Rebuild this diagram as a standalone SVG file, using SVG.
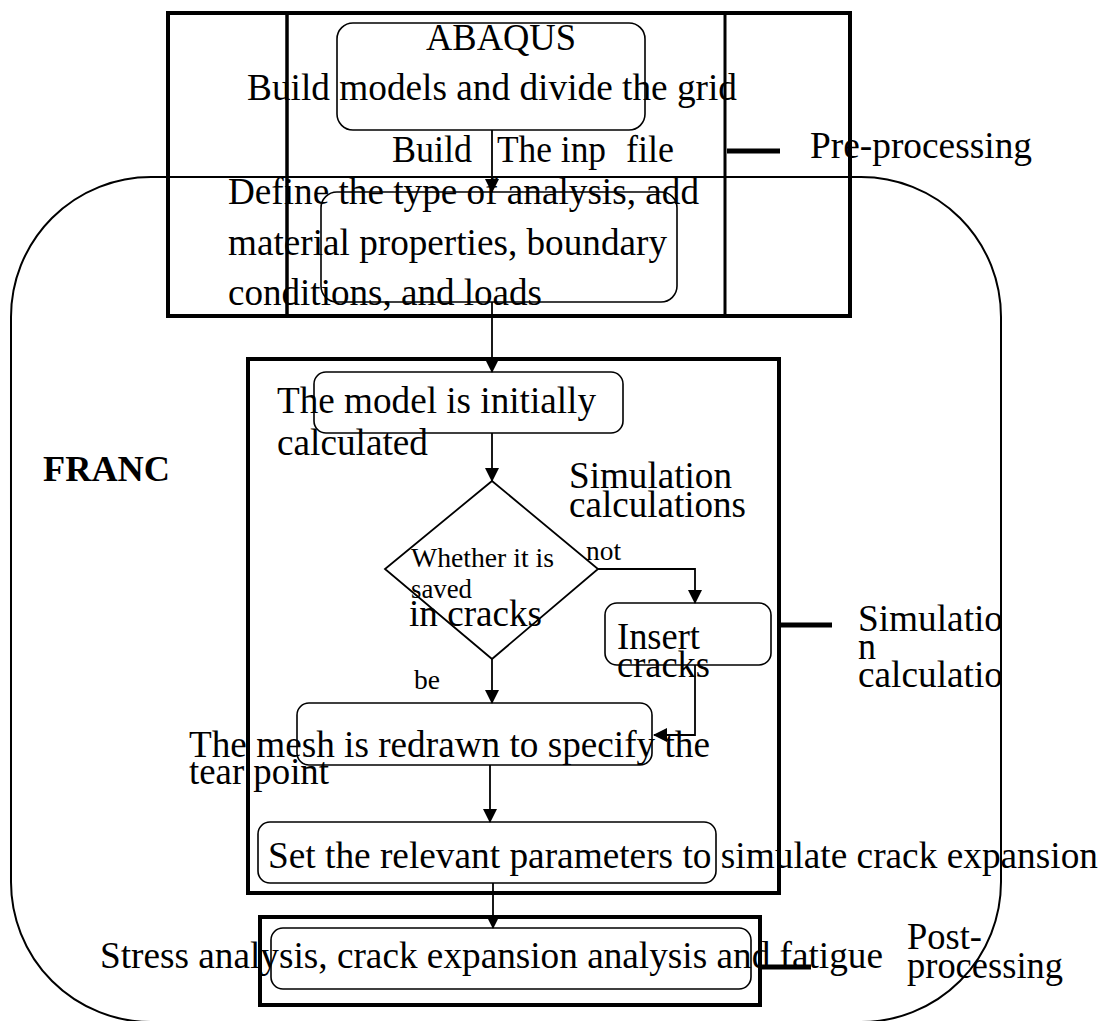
<svg xmlns="http://www.w3.org/2000/svg" width="1103" height="1021" viewBox="0 0 1103 1021">
<style>
  text { font-family: "Liberation Serif", "Times New Roman", serif; fill: #000; font-size: 37px; }
  .sm { font-size: 27.5px; }
  .bold { font-weight: bold; font-size: 36px; }
  .box { fill: none; stroke: #000; stroke-width: 1.6; }
  .thick { fill: none; stroke: #000; stroke-width: 4; }
  .bar { stroke: #000; stroke-width: 5; }
  .conn { fill: none; stroke: #000; stroke-width: 1.8; }
</style>
<defs>
  <marker id="arrow" markerUnits="userSpaceOnUse" markerWidth="14" markerHeight="16" refX="13" refY="7" orient="auto">
    <path d="M0,0 L14,7 L0,14 Z" fill="#000"/>
  </marker>
  <clipPath id="clipR"><rect x="0" y="0" width="1001" height="1021"/></clipPath>
</defs>

<g id="franc-region">
  <rect x="11" y="177" width="990" height="845" rx="140" ry="140" fill="none" stroke="#000" stroke-width="2"/>
  <text class="bold" x="43" y="481" textLength="127" lengthAdjust="spacingAndGlyphs">FRANC</text>
</g>

<g id="preprocessing-frame">
  <rect class="thick" x="168" y="13" width="682" height="303"/>
  <line x1="287" y1="13" x2="287" y2="316" stroke="#000" stroke-width="3.5"/>
  <line x1="725" y1="13" x2="725" y2="316" stroke="#000" stroke-width="3"/>
  <line class="bar" x1="727" y1="151" x2="780" y2="151"/>
  <text x="810" y="158" textLength="222" lengthAdjust="spacingAndGlyphs">Pre-processing</text>
</g>

<g id="abaqus">
  <rect class="box" x="337" y="23" width="308" height="107" rx="16"/>
  <text x="426" y="50" textLength="150" lengthAdjust="spacingAndGlyphs">ABAQUS</text>
  <text x="247" y="100" textLength="490" lengthAdjust="spacingAndGlyphs">Build models and divide the grid</text>
</g>

<g id="inp-label">
  <text y="162"><tspan x="392" textLength="80" lengthAdjust="spacingAndGlyphs">Build</tspan> <tspan x="497" textLength="109" lengthAdjust="spacingAndGlyphs">The inp</tspan> <tspan x="626" textLength="48" lengthAdjust="spacingAndGlyphs">file</tspan></text>
</g>

<g id="define">
  <rect class="box" x="321" y="192" width="356" height="110" rx="16"/>
  <text x="228" y="204" textLength="471" lengthAdjust="spacingAndGlyphs">Define the type of analysis, add</text>
  <text x="228" y="255" textLength="439" lengthAdjust="spacingAndGlyphs">material properties, boundary</text>
  <text x="228" y="305" textLength="314" lengthAdjust="spacingAndGlyphs">conditions, and loads</text>
</g>

<g id="simulation-frame">
  <rect class="thick" x="248" y="359" width="531" height="534"/>
  <text x="569" y="488" textLength="163" lengthAdjust="spacingAndGlyphs">Simulation</text>
  <text x="569" y="517" textLength="177" lengthAdjust="spacingAndGlyphs">calculations</text>
  <line class="bar" x1="778" y1="625" x2="832" y2="625"/>
  <g clip-path="url(#clipR)">
    <text x="858" y="631" textLength="145" lengthAdjust="spacingAndGlyphs">Simulatio</text>
    <text x="858" y="659" textLength="18" lengthAdjust="spacingAndGlyphs">n</text>
    <text x="858" y="687" textLength="145" lengthAdjust="spacingAndGlyphs">calculatio</text>
  </g>
</g>

<g id="initial-calc">
  <rect class="box" x="314" y="372" width="309" height="61" rx="12"/>
  <text x="277" y="413" textLength="319" lengthAdjust="spacingAndGlyphs">The model is initially</text>
  <text x="277" y="455" textLength="151" lengthAdjust="spacingAndGlyphs">calculated</text>
</g>

<g id="decision">
  <polygon points="492,481 598,569 492,659 385,569" fill="none" stroke="#000" stroke-width="1.8"/>
  <text class="sm" x="411" y="567" textLength="143" lengthAdjust="spacingAndGlyphs">Whether it is</text>
  <text class="sm" x="411" y="598" textLength="61" lengthAdjust="spacingAndGlyphs">saved</text>
  <text x="409" y="626" textLength="133" lengthAdjust="spacingAndGlyphs">in cracks</text>
</g>

<g id="insert">
  <rect class="box" x="605" y="603" width="166" height="62" rx="12"/>
  <text x="617" y="649" textLength="83" lengthAdjust="spacingAndGlyphs">Insert</text>
  <text x="617" y="677" textLength="93" lengthAdjust="spacingAndGlyphs">cracks</text>
</g>

<g id="mesh">
  <rect class="box" x="297" y="703" width="355" height="62" rx="12"/>
  <text x="189" y="757" textLength="521" lengthAdjust="spacingAndGlyphs">The mesh is redrawn to specify the</text>
  <text x="189" y="784" textLength="140" lengthAdjust="spacingAndGlyphs">tear point</text>
</g>

<g id="set-params">
  <rect class="box" x="258" y="822" width="458" height="61" rx="12"/>
  <text x="268" y="868" textLength="830" lengthAdjust="spacingAndGlyphs">Set the relevant parameters to simulate crack expansion</text>
</g>

<g id="postprocessing">
  <rect class="thick" x="260" y="917" width="500" height="88"/>
  <rect class="box" x="271" y="928" width="480" height="61" rx="12"/>
  <text x="100" y="968" textLength="783" lengthAdjust="spacingAndGlyphs">Stress analysis, crack expansion analysis and fatigue</text>
  <line class="bar" x1="759" y1="967" x2="811" y2="967"/>
  <text x="907" y="949" textLength="75" lengthAdjust="spacingAndGlyphs">Post-</text>
  <text x="907" y="978" textLength="156" lengthAdjust="spacingAndGlyphs">processing</text>
</g>

<g id="connectors">
  <line class="conn" x1="492" y1="130" x2="492" y2="192" marker-end="url(#arrow)"/>
  <line class="conn" x1="492" y1="302" x2="492" y2="372" marker-end="url(#arrow)"/>
  <line class="conn" x1="492" y1="433" x2="492" y2="481" marker-end="url(#arrow)"/>
  <text class="sm" x="586" y="560" textLength="35" lengthAdjust="spacingAndGlyphs">not</text>
  <polyline class="conn" stroke-width="2.5" points="598,569 695,569 695,603" marker-end="url(#arrow)"/>
  <polyline class="conn" stroke-width="2.5" points="695,665 695,735 654,735" marker-end="url(#arrow)"/>
  <text class="sm" x="414" y="689" textLength="26" lengthAdjust="spacingAndGlyphs">be</text>
  <line class="conn" x1="492" y1="659" x2="492" y2="703" marker-end="url(#arrow)"/>
  <line class="conn" stroke-width="3" x1="490" y1="765" x2="490" y2="822" marker-end="url(#arrow)"/>
  <line class="conn" x1="493" y1="883" x2="493" y2="928" marker-end="url(#arrow)"/>
</g>
</svg>
